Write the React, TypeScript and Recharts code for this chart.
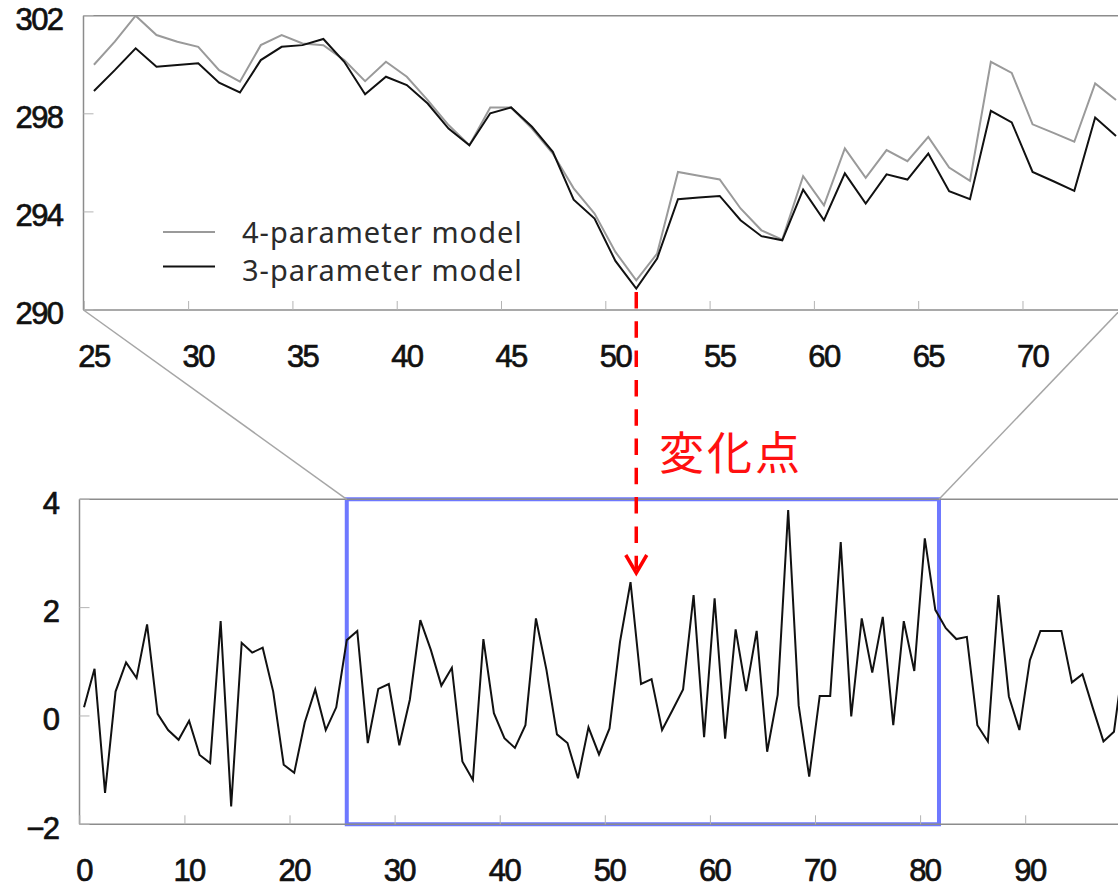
import React from "react";
import { LineChart, Line, XAxis, YAxis, ReferenceLine, ReferenceArea } from "recharts";

// upper panel: fitted level for steps 25..74
const TOP_START = 25;
const fourParam = [
  300.0, 300.94, 302.0, 301.21, 300.94, 300.73, 299.78, 299.31, 300.8, 301.21,
  300.87, 300.8, 300.19, 299.33, 300.12, 299.51, 298.56, 297.54, 296.72, 298.26,
  298.26, 297.4, 296.38, 294.96, 293.93, 292.37, 291.21, 292.3, 295.63, 295.47,
  295.32, 294.14, 293.25, 292.87, 295.46, 294.27, 296.59, 295.39, 296.52, 296.07,
  297.06, 295.81, 295.27, 300.12, 299.67, 297.57, 297.22, 296.86, 299.24, 298.56,
];
const threeParam = [
  298.93, 299.78, 300.67, 299.92, 299.99, 300.06, 299.27, 298.87, 300.19, 300.73,
  300.8, 301.05, 300.12, 298.8, 299.51, 299.17, 298.42, 297.4, 296.72, 298.02,
  298.26, 297.47, 296.45, 294.5, 293.73, 292.0, 290.87, 292.1, 294.52, 294.59,
  294.65, 293.66, 293.01, 292.84, 294.91, 293.66, 295.57, 294.34, 295.53, 295.32,
  296.38, 294.84, 294.52, 298.12, 297.65, 295.63, 295.25, 294.86, 297.85, 297.09,
];
const topTicksX = [25, 30, 35, 40, 45, 50, 55, 60, 65, 70];
const topTicksY = [290, 294, 298, 302];

// lower panel: raw series, steps 0..99
const rawSeries = [
  0.16, 0.87, -1.42, 0.45, 0.99, 0.7, 1.69, 0.04, -0.26, -0.44,
  -0.09, -0.72, -0.87, 1.75, -1.67, 1.35, 1.17, 1.26, 0.45, -0.9,
  -1.05, -0.12, 0.49, -0.26, 0.16, 1.4, 1.57, -0.5, 0.5, 0.59,
  -0.54, 0.3, 1.77, 1.22, 0.56, 0.89, -0.84, -1.18, 1.42, 0.05,
  -0.41, -0.59, -0.17, 1.8, 0.85, -0.34, -0.5, -1.15, -0.21, -0.71,
  -0.23, 1.37, 2.47, 0.59, 0.68, -0.26, 0.11, 0.49, 2.23, -0.39,
  2.17, -0.42, 1.6, 0.46, 1.57, -0.66, 0.39, 3.8, 0.19, -1.12,
  0.37, 0.37, 3.21, -0.01, 1.8, 0.8, 1.83, -0.17, 1.75, 0.83,
  3.28, 1.96, 1.62, 1.42, 1.46, -0.17, -0.47, 2.23, 0.36, -0.26,
  1.03, 1.57, 1.57, 1.57, 0.62, 0.77, 0.14, -0.47, -0.29, 1.15,
];
const bottomTicksX = [0, 10, 20, 30, 40, 50, 60, 70, 80, 90];
const bottomTicksY = [-2, 0, 2, 4];

// zoomed window and detected change point
const zoomWindow = [25, 81.35];
const changePoint = 51;
const changeLabel = "変化点";

const SERIES = [
  { key: "four", name: "4-parameter model", color: "#9a9a9a" },
  { key: "three", name: "3-parameter model", color: "#111111" },
];

const topData = fourParam.map((v, i) => ({
  t: TOP_START + i,
  four: v,
  three: threeParam[i],
}));
const bottomData = rawSeries.map((v, i) => ({ t: i, value: v }));

// layout
const TOP_X_DOMAIN: [number, number] = [24.5, 74.2];
const TOP_PLOT = { left: 83.5, top: 15.7, width: 1036.7, height: 294.3 };
const BOTTOM_OFFSET = 480;
const BOTTOM_X_DOMAIN: [number, number] = [-0.43, 100];
const BOTTOM_PLOT = { left: 79.5, top: 19.3, width: 1055.5, height: 325 };

const FRAME = "#8c8c8c";
const TICK = "#b4b4b4";
const LABEL_FONT = "'Liberation Sans', Arial, sans-serif";

const xTop = (v: number) =>
  TOP_PLOT.left +
  ((v - TOP_X_DOMAIN[0]) / (TOP_X_DOMAIN[1] - TOP_X_DOMAIN[0])) * TOP_PLOT.width;
const xBottom = (v: number) =>
  BOTTOM_PLOT.left +
  ((v - BOTTOM_X_DOMAIN[0]) / (BOTTOM_X_DOMAIN[1] - BOTTOM_X_DOMAIN[0])) *
    BOTTOM_PLOT.width;

// shared look of the numeric tick labels: tight, slightly heavy
const labelProps = {
  fontFamily: LABEL_FONT,
  fontSize: 31,
  letterSpacing: -1.6,
  fill: "#111",
  stroke: "#111",
  strokeWidth: 0.7,
};

function makeXTick(markShift: number) {
  return function XTick(props: any) {
    const { x, y, payload } = props;
    return (
      <g>
        <line x1={x - markShift} x2={x - markShift} y1={y} y2={y - 9} stroke={TICK} strokeWidth={1} />
        <text x={x} y={y + 57} textAnchor="middle" {...labelProps}>
          {payload.value}
        </text>
      </g>
    );
  };
}

function YTick(props: any) {
  const { x, y, payload } = props;
  const label = payload.value < 0 ? `\u2212${Math.abs(payload.value)}` : payload.value;
  return (
    <g>
      <line x1={x} x2={x + 10} y1={y} y2={y} stroke={TICK} strokeWidth={1} />
      <text x={x - 21} y={y + 14.5} textAnchor="end" {...labelProps}>
        {label}
      </text>
    </g>
  );
}

const TopXTick = makeXTick(9.6);
const BottomXTick = makeXTick(4.2);

function TopPanel() {
  const width = TOP_PLOT.left + TOP_PLOT.width + 10;
  const height = TOP_PLOT.top + TOP_PLOT.height + 70;
  return (
    <LineChart
      width={width}
      height={height}
      data={topData}
      margin={{ top: TOP_PLOT.top, right: 10, bottom: 0, left: TOP_PLOT.left - 70 }}
    >
      <XAxis
        dataKey="t"
        type="number"
        domain={TOP_X_DOMAIN}
        allowDataOverflow
        ticks={topTicksX}
        interval={0}
        height={70}
        axisLine={{ stroke: FRAME, strokeWidth: 1.5 }}
        tickLine={false}
        tickSize={0}
        tickMargin={0}
        tick={TopXTick}
      />
      <YAxis
        type="number"
        domain={[290, 302]}
        allowDataOverflow
        ticks={topTicksY}
        interval={0}
        width={70}
        axisLine={{ stroke: FRAME, strokeWidth: 1.5 }}
        tickLine={false}
        tickSize={0}
        tickMargin={0}
        tick={YTick}
      />
      <ReferenceLine y={302} stroke={FRAME} strokeWidth={1.5} />
      {SERIES.map((s) => (
        <Line
          key={s.key}
          dataKey={s.key}
          name={s.name}
          stroke={s.color}
          strokeWidth={2}
          dot={false}
          activeDot={false}
          isAnimationActive={false}
        />
      ))}
    </LineChart>
  );
}

function BottomPanel() {
  const width = BOTTOM_PLOT.left + BOTTOM_PLOT.width + 10;
  const height = BOTTOM_PLOT.top + BOTTOM_PLOT.height + 80;
  return (
    <LineChart
      width={width}
      height={height}
      data={bottomData}
      margin={{ top: BOTTOM_PLOT.top, right: 10, bottom: 0, left: BOTTOM_PLOT.left - 70 }}
    >
      <XAxis
        dataKey="t"
        type="number"
        domain={BOTTOM_X_DOMAIN}
        allowDataOverflow
        ticks={bottomTicksX}
        interval={0}
        height={80}
        axisLine={{ stroke: FRAME, strokeWidth: 1.5 }}
        tickLine={false}
        tickSize={0}
        tickMargin={0}
        tick={BottomXTick}
      />
      <YAxis
        type="number"
        domain={[-2, 4]}
        allowDataOverflow
        ticks={bottomTicksY}
        interval={0}
        width={70}
        axisLine={{ stroke: FRAME, strokeWidth: 1.5 }}
        tickLine={false}
        tickSize={0}
        tickMargin={0}
        tick={YTick}
      />
      <ReferenceLine y={4} stroke={FRAME} strokeWidth={1.5} />
      <Line
        dataKey="value"
        stroke="#111"
        strokeWidth={2}
        dot={false}
        activeDot={false}
        isAnimationActive={false}
      />
      <ReferenceArea
        x1={zoomWindow[0]}
        x2={zoomWindow[1]}
        y1={-2}
        y2={4}
        fill="none"
        stroke="#6e78ff"
        strokeWidth={4}
        strokeOpacity={1}
      />
    </LineChart>
  );
}

function Overlay() {
  const topBottomY = TOP_PLOT.top + TOP_PLOT.height;
  const boxTopY = BOTTOM_OFFSET + BOTTOM_PLOT.top;
  const cx = xTop(changePoint);
  const tipY = 573;
  return (
    <svg
      width={1118}
      height={888}
      style={{ position: "absolute", left: 0, top: 0, pointerEvents: "none" }}
    >
      {/* zoom connectors */}
      <line x1={TOP_PLOT.left} y1={topBottomY} x2={xBottom(zoomWindow[0])} y2={boxTopY} stroke="#a6a6a6" strokeWidth={1.5} />
      <line x1={TOP_PLOT.left + TOP_PLOT.width} y1={topBottomY} x2={xBottom(zoomWindow[1])} y2={boxTopY} stroke="#a6a6a6" strokeWidth={1.5} />

      {/* legend */}
      {SERIES.map((s, i) => (
        <g key={s.key}>
          <line x1={163} x2={215} y1={232 + 34.5 * i} y2={232 + 34.5 * i} stroke={s.color} strokeWidth={2} />
          <text
            x={242}
            y={243 + 38 * i}
            fontFamily="'Noto Sans', sans-serif"
            fontSize={29}
            letterSpacing={1}
            fill="#2b2b2b"
          >
            {s.name}
          </text>
        </g>
      ))}

      {/* change point marker */}
      <line x1={cx} x2={cx} y1={292} y2={tipY - 4} stroke="#ff0000" strokeWidth={3.5} strokeDasharray="16.5 12.8" />
      <polyline
        points={`${cx - 10.5},${tipY - 18} ${cx},${tipY} ${cx + 10.5},${tipY - 18}`}
        fill="none"
        stroke="#ff0000"
        strokeWidth={3.5}
      />
      <text
        x={659}
        y={470}
        fontFamily="'Noto Sans CJK JP', sans-serif"
        fontSize={45}
        letterSpacing={3}
        fill="#ff1010"
      >
        {changeLabel}
      </text>
    </svg>
  );
}

export default function App() {
  return (
    <div
      style={{
        position: "fixed",
        left: 0,
        top: 0,
        width: 1118,
        height: 888,
        overflow: "hidden",
        background: "#fff",
      }}
    >
      <div style={{ position: "absolute", left: 0, top: 0 }}>
        <TopPanel />
      </div>
      <div style={{ position: "absolute", left: 0, top: BOTTOM_OFFSET }}>
        <BottomPanel />
      </div>
      <Overlay />
    </div>
  );
}
